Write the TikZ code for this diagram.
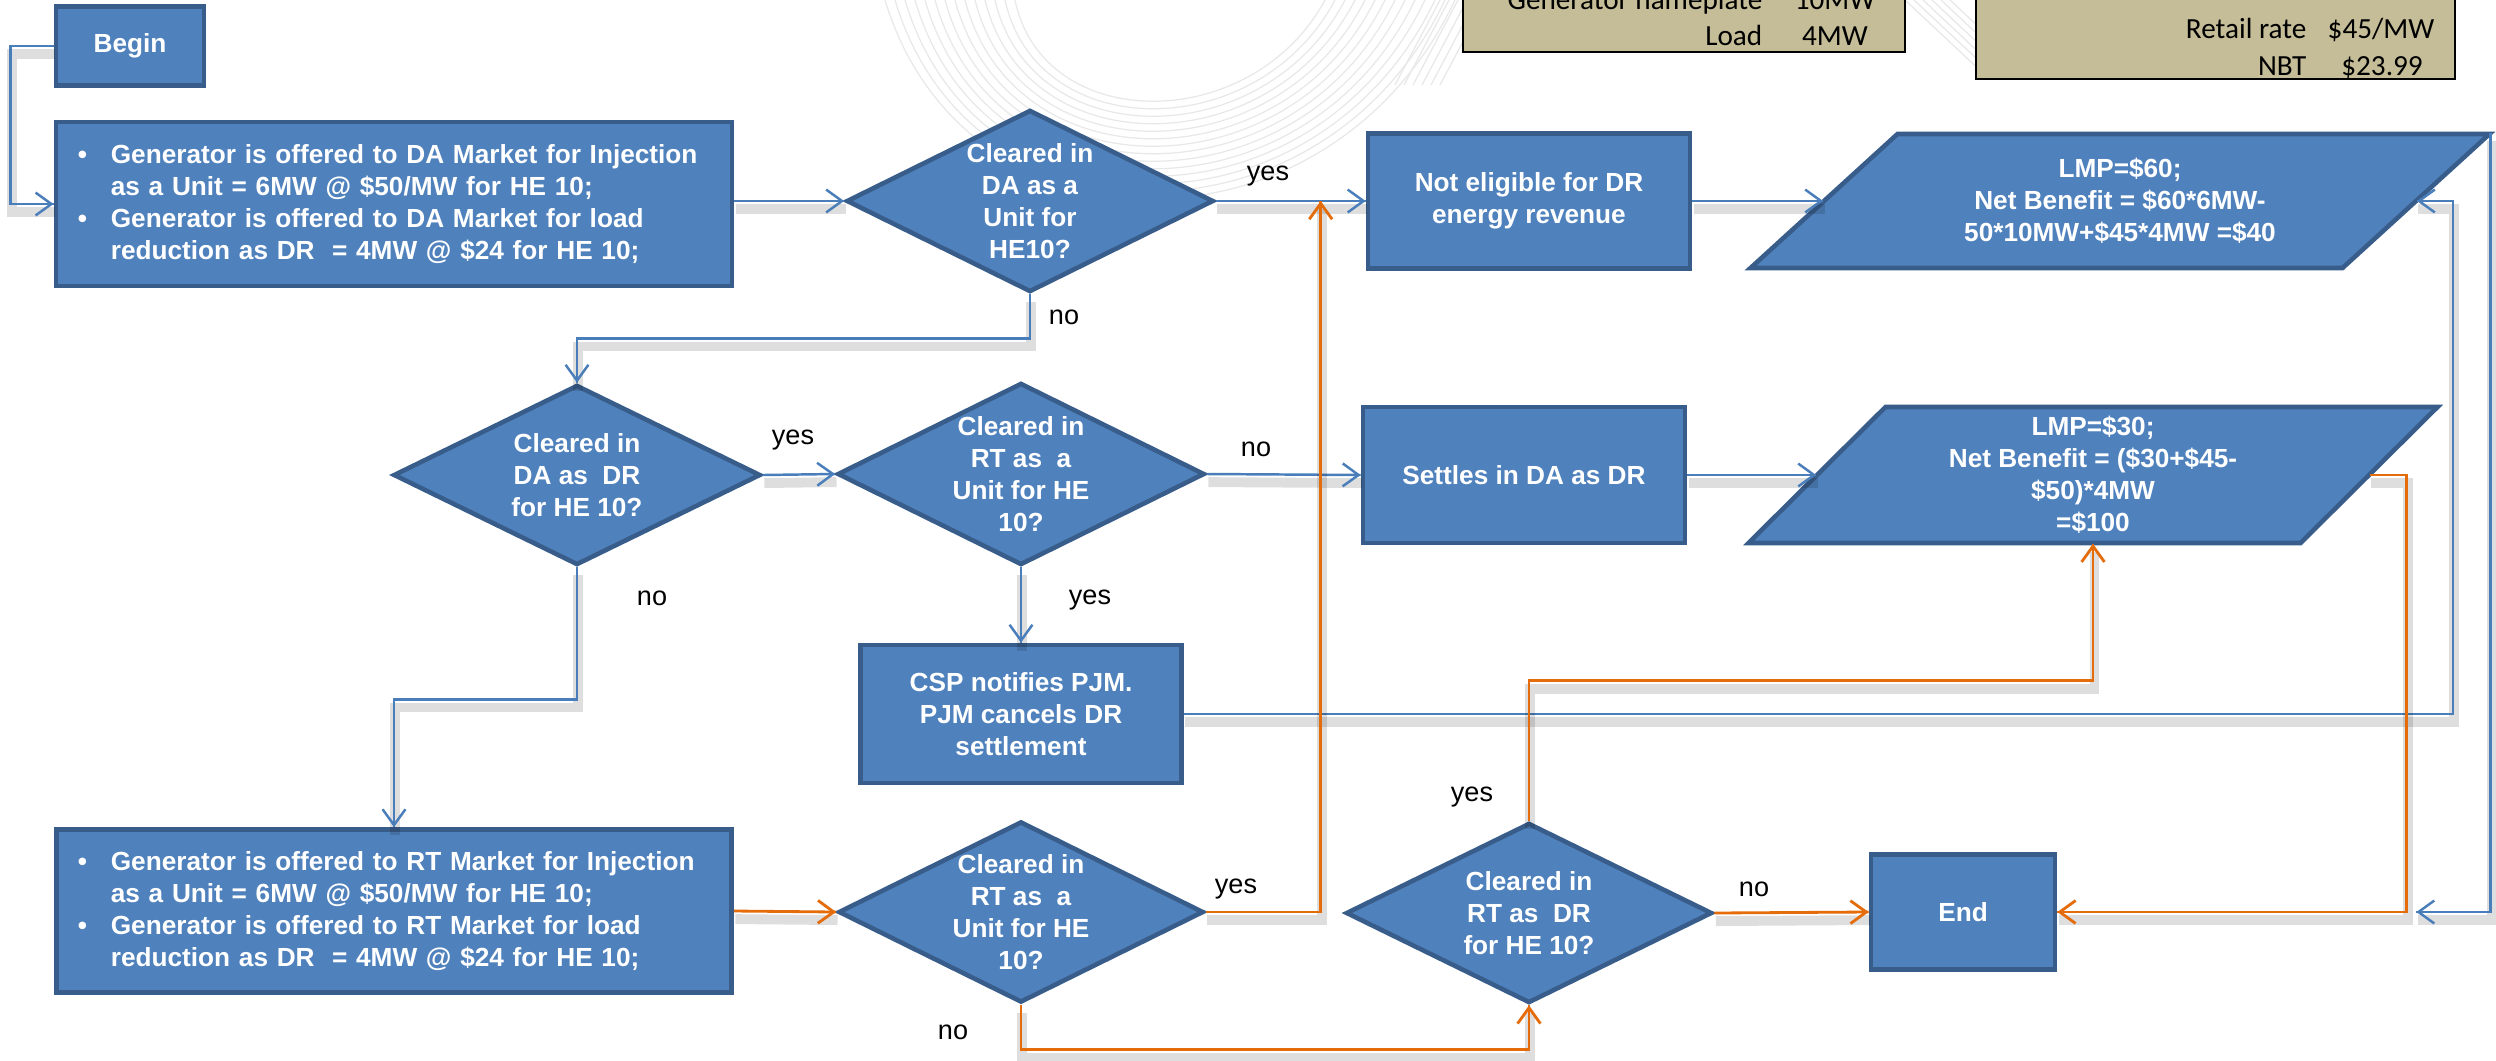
\documentclass[tikz,border=0pt]{standalone}
\usepackage{fontspec}
\setmainfont{Liberation Sans}
\newfontfamily\tablefont{Carlito}
\usepackage{tikz}
\usetikzlibrary{arrows.meta}
\usetikzlibrary{decorations.markings}
\usetikzlibrary{shapes.geometric}
\usetikzlibrary{calc}
\definecolor{boxblue}{HTML}{4F81BD}
\definecolor{boxline}{HTML}{385D8A}
\definecolor{linkblue}{HTML}{4A7EBB}
\definecolor{linkorange}{HTML}{E46C0A}
\definecolor{tablefill}{HTML}{C4BD97}
\newcommand{\flowfont}{\fontsize{7.45}{9.1}\selectfont\bfseries}
\newcommand{\answerfont}{\fontsize{7.7}{9}\selectfont}
\tikzset{->/.style = {decoration={markings,
                                  mark=at position 1 with {\arrow{Straight Barb[length=4.5pt,width=6.5pt]}}},
                      postaction={decorate}}}
\tikzset{shadowed/.style = {preaction={draw=black, opacity=0.13, line width=2.8pt,
                                       transform canvas={xshift=0.4pt, yshift=-2.3pt}}}}
\tikzset{procbox/.style = {draw=boxline, fill=boxblue, line width=1.3pt, inner sep=0}}
\tikzset{decision/.style = {diamond, draw=boxline, fill=boxblue, line width=1.3pt, inner sep=0,
                            minimum width=3.67cm, minimum height=1.82cm}}
\tikzset{iofill/.style = {draw=boxline, fill=boxblue, line width=1.3pt, line join=miter}}
\tikzset{boxtext/.style = {text=white, font=\flowfont, align=center, inner sep=0}}
\tikzset{answer/.style = {font=\answerfont, inner sep=0}}
\tikzset{flowblue/.style = {color=linkblue, line width=0.7pt, shadowed, ->}}
\tikzset{floworange/.style = {color=linkorange, line width=0.8pt, shadowed, ->}}
\tikzset{tablebox/.style = {draw=black, fill=tablefill, line width=0.8pt}}
\tikzset{cellname/.style = {font=\tablefont\fontsize{8.3}{10}\selectfont, anchor=east, inner sep=0,
                            text height=1.4ex, text depth=.3ex}}
\tikzset{cellvalue/.style = {font=\tablefont\fontsize{8.3}{10}\selectfont, inner sep=0,
                             text height=1.4ex, text depth=.3ex}}
\tikzset{wmark/.style = {draw=black!9, line width=0.35pt}}

\begin{document}
\begin{tikzpicture}[x=0.01cm, y=-0.01cm]
  \useasboundingbox (0,0) rectangle (2496,1060);
  \fill[white] (0,0) rectangle (2496,1060);

  % background curves
  \foreach \i in {0,...,13}
    \draw[wmark] (885+10*\i,0) .. controls (965+6*\i,265-10*\i) and (1330-6*\i,265-10*\i) .. (1455-10*\i,0);
  \foreach \i in {0,...,5}
    \draw[wmark] (1395+9*\i,85) -- (1440+9*\i,0);
  \foreach \i in {0,...,5}
    \draw[wmark] (1905+9*\i,0) -- (1985+9*\i,75);

  % data tables
  \draw[tablebox] (1463,-40) rectangle (1905,52);
  \node[cellname] (gname) at (1763,-1) {Generator nameplate};
  \node[cellvalue] (gsize) at (1835,-1) {10MW};
  \node[cellname] (lname) at (1763,35) {Load};
  \node[cellvalue] (lsize) at (1835,35) {4MW};
  \draw[tablebox] (1976,-40) rectangle (2455,79);
  \node[cellname] (rname) at (2307,28) {Retail rate};
  \node[cellvalue] (rrate) at (2381,28) {\$45/MW};
  \node[cellname] (nname) at (2307,65) {NBT};
  \node[cellvalue] (nrate) at (2382,65) {\$23.99};

  % boxes
  \node[procbox, minimum width=1.48cm, minimum height=0.79cm] (begin) at (130,46) {};
  \node[boxtext] (begint) at (begin) {Begin};
  \node[procbox, minimum width=6.76cm, minimum height=1.64cm] (daoffer) at (394,204) {};
  \node[boxtext, align=left, text width=6.36cm] (daoffert) at ($(daoffer)+(2,0)$)
    {\makebox[9.4pt][l]{\textbullet}Generator is offered to DA Market for Injection\\
     \hspace*{9.4pt}as a Unit = 6MW @ \$50/MW for HE 10;\\
     \makebox[9.4pt][l]{\textbullet}Generator is offered to DA Market for load\\
     \hspace*{9.4pt}reduction as DR\ \ = 4MW @ \$24 for HE 10;};
  \node[decision] (d1) at (1030,201) {};
  \node[boxtext] (d1t) at (d1) {Cleared in\\DA as a\\Unit for\\HE10?};
  \node[procbox, minimum width=3.22cm, minimum height=1.35cm] (ne) at (1529,201) {};
  \node[boxtext] (net) at (ne) {Not eligible for DR\\energy revenue};
  % parallelogram, slant 147 over its height
  \coordinate (p60) at (2120,201);
  \draw[iofill] ($(p60)+(-369.5,67)$) -- ($(p60)+(222.5,67)$) -- ($(p60)+(369.5,-67)$)
    -- ($(p60)+(-222.5,-67)$) -- cycle;
  \node[boxtext, minimum width=5.92cm, minimum height=1.34cm] (lmp60) at (p60)
    {LMP=\$60;\\Net Benefit = \$60*6MW-\\50*10MW+\$45*4MW =\$40};

  \node[decision, minimum height=1.80cm] (d2) at (577,475) {};
  \node[boxtext] (d2t) at (d2) {Cleared in\\DA as\ \ DR\\for HE 10?};
  \node[decision] (d3) at (1021,474) {};
  \node[boxtext] (d3t) at (d3) {Cleared in\\RT as\ \ a\\Unit for HE\\10?};
  \node[procbox, minimum width=3.22cm, minimum height=1.36cm] (settles) at (1524,475) {};
  \node[boxtext] (settlest) at (settles) {Settles in DA as DR};
  % parallelogram, slant 137 over its height
  \coordinate (p30) at (2093,475);
  \draw[iofill] ($(p30)+(-344.5,68)$) -- ($(p30)+(207.5,68)$) -- ($(p30)+(344.5,-68)$)
    -- ($(p30)+(-207.5,-68)$) -- cycle;
  \node[boxtext, minimum width=5.52cm, minimum height=1.36cm] (lmp30) at (p30)
    {LMP=\$30;\\Net Benefit = (\$30+\$45-\\\$50)*4MW\\=\$100};
  \node[procbox, minimum width=3.21cm, minimum height=1.38cm] (csp) at (1021,714) {};
  \node[boxtext] (cspt) at (csp) {CSP notifies PJM.\\PJM cancels DR\\settlement};

  \node[procbox, minimum width=6.75cm, minimum height=1.63cm] (rtoffer) at (394,911) {};
  \node[boxtext, align=left, text width=6.36cm] (rtoffert) at ($(rtoffer)+(2,0)$)
    {\makebox[9.4pt][l]{\textbullet}Generator is offered to RT Market for Injection\\
     \hspace*{9.4pt}as a Unit = 6MW @ \$50/MW for HE 10;\\
     \makebox[9.4pt][l]{\textbullet}Generator is offered to RT Market for load\\
     \hspace*{9.4pt}reduction as DR\ \ = 4MW @ \$24 for HE 10;};
  \node[decision, minimum width=3.65cm, minimum height=1.81cm] (d4) at (1021,912) {};
  \node[boxtext] (d4t) at (d4) {Cleared in\\RT as\ \ a\\Unit for HE\\10?};
  \node[decision, minimum width=3.66cm, minimum height=1.80cm] (d5) at (1529,913) {};
  \node[boxtext] (d5t) at (d5) {Cleared in\\RT as\ \ DR\\for HE 10?};
  \node[procbox, minimum width=1.84cm, minimum height=1.15cm] (endbox) at (1963,912) {};
  \node[boxtext] (endt) at (endbox) {End};

  % answers
  \node[answer] (yes1) at (1268,176) {yes};
  \node[answer] (no1) at (1064,317) {no};
  \node[answer] (yes2) at (793,440) {yes};
  \node[answer] (no2) at (1256,449) {no};
  \node[answer] (yes3) at (1090,600) {yes};
  \node[answer] (no3) at (652,598) {no};
  \node[answer] (yes4) at (1236,889) {yes};
  \node[answer] (no4) at (953,1032) {no};
  \node[answer] (yes5) at (1472,797) {yes};
  \node[answer] (no5) at (1754,889) {no};

  % blue connectors
  \draw[flowblue] (begin.west) -- ++(-43,0) |- (daoffer.west);
  \draw[flowblue] (daoffer.east |- d1.west) -- (d1.west);
  \draw[flowblue] (d1.east) -- (ne.west);
  \draw[flowblue] (ne.east) -- (lmp60.west);
  \draw[flowblue] (d1.south) -- ++(0,44) -| (d2.north);
  \draw[flowblue] (d2.east) -- (d3.west);
  \draw[flowblue] (d3.east) -- (settles.west);
  \draw[flowblue] (settles.east) -- (lmp30.west);
  \draw[flowblue] (d3.south) -- (csp.north);
  \draw[flowblue] (csp.east) -| ($(lmp60.east)+(36,0)$) -- (lmp60.east);
  \coordinate (endtip) at ($(endbox.east)+(359,0)$);
  \draw[flowblue] ($(lmp60.north east)+(73.5,0)$) |- (endtip);
  \draw[flowblue] (d2.south) -- ++(0,132) -| (rtoffer.north);

  % orange connectors
  \coordinate (yesjoin) at ($(d1.east)!0.7!(ne.west)$);
  \draw[floworange] (rtoffer.east) -- (d4.west);
  \draw[floworange] (d4.east) -| (yesjoin);
  \draw[floworange] (d4.south) -- ++(0,45) -| (d5.south);
  \draw[floworange] (d5.east) -- (endbox.west);
  \draw[floworange] (d5.north) -- ++(0,-140) -| (lmp30.south);
  \draw[floworange] (lmp30.east) -- ++(37,0) |- (endbox.east);
\end{tikzpicture}
\end{document}
